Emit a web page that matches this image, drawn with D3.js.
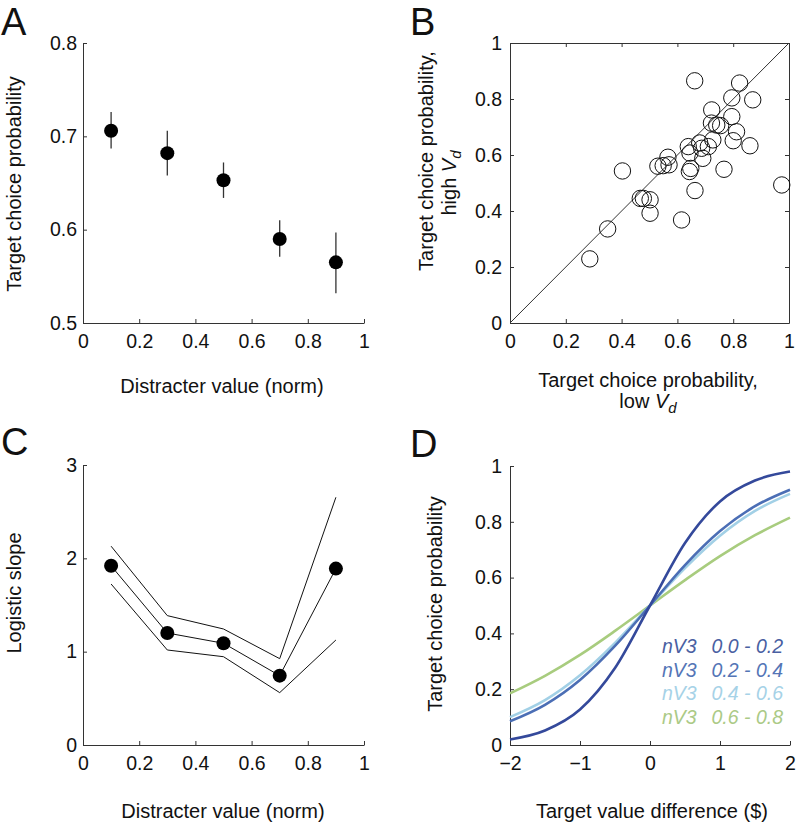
<!DOCTYPE html>
<html>
<head>
<meta charset="utf-8">
<script src="https://cdn.jsdelivr.net/npm/d3@7"></script>
<style>
  body { margin: 0; background: #fff; }
  svg { font-family: "Liberation Sans", Arial, Helvetica, sans-serif; }
  .axis path, .axis line { stroke: #333; stroke-width: 1; }
  .axis text { font-size: 19.5px; fill: #111; font-family: "Liberation Sans", Arial, sans-serif; }
</style>
</head>
<body>
<div id="chart"></div>
<script>
// panel A: target choice probability vs distracter value
const distracterX = [0.1, 0.3, 0.5, 0.7, 0.9];
const choiceMean = [0.706, 0.682, 0.653, 0.590, 0.565];
const choiceLow = [0.687, 0.658, 0.634, 0.571, 0.532];
const choiceHigh = [0.726, 0.706, 0.672, 0.610, 0.597];

// panel B: per-session choice probability, low Vd vs high Vd
const lowVd = [0.286, 0.350, 0.403, 0.467, 0.478, 0.502, 0.502, 0.530, 0.549, 0.566, 0.570,
  0.615, 0.639, 0.645, 0.648, 0.643, 0.663, 0.662, 0.680, 0.687, 0.691, 0.711, 0.727,
  0.723, 0.741, 0.722, 0.755, 0.767, 0.795, 0.795, 0.800, 0.812, 0.823, 0.860, 0.870, 0.974];
const highVd = [0.229, 0.336, 0.543, 0.445, 0.445, 0.440, 0.392, 0.560, 0.562, 0.592, 0.565,
  0.368, 0.630, 0.607, 0.552, 0.541, 0.473, 0.865, 0.643, 0.624, 0.588, 0.630, 0.654,
  0.761, 0.707, 0.714, 0.705, 0.549, 0.804, 0.737, 0.651, 0.683, 0.857, 0.633, 0.797, 0.493];

// panel C: logistic slope with bounds
const slope = [1.92, 1.20, 1.09, 0.743, 1.89];
const slopeUpper = [2.13, 1.386, 1.243, 0.925, 2.654];
const slopeLower = [1.725, 1.018, 0.946, 0.561, 1.125];

// panel D: choice curves per nV3 bin
const valueDiff = [-2, -1.5, -1, -0.5, 0, 0.5, 1, 1.5, 2];
const bin1 = [0.020, 0.052, 0.127, 0.276, 0.5, 0.724, 0.873, 0.948, 0.980];
const bin2 = [0.085, 0.144, 0.233, 0.355, 0.5, 0.645, 0.767, 0.856, 0.915];
const bin3 = [0.100, 0.161, 0.250, 0.366, 0.5, 0.634, 0.750, 0.839, 0.900];
const bin4 = [0.185, 0.248, 0.323, 0.409, 0.5, 0.591, 0.677, 0.752, 0.815];
const binLabels = ["0.0 - 0.2", "0.2 - 0.4", "0.4 - 0.6", "0.6 - 0.8"];
const binColors = ["#34499b", "#4b6eb5", "#a2d0e6", "#a8cc7e"];
const legendColors = ["#4a5fa2", "#5475b6", "#a6d2e7", "#abca86"];

const width = 796, height = 825;
const svg = d3.select("#chart").append("svg")
  .attr("width", width).attr("height", height);

function fmt(d) { return d3.format("")(+d.toFixed(1)); }

function panelLetter(t, x, y) {
  svg.append("text").attr("x", x).attr("y", y)
    .attr("font-size", 38).attr("fill", "#111").text(t);
}

function title(x, y, txt, rotate) {
  const t = svg.append("text").attr("font-size", 20).attr("fill", "#111")
    .attr("text-anchor", "middle");
  if (rotate) t.attr("transform", `translate(${x},${y}) rotate(-90)`);
  else t.attr("x", x).attr("y", y);
  t.text(txt);
  return t;
}

// ---------- A ----------
{
  const x = d3.scaleLinear().domain([0, 1]).range([83, 364]);
  const y = d3.scaleLinear().domain([0.5, 0.8]).range([323, 43]);
  svg.append("g").attr("class", "axis").attr("transform", "translate(0,323)")
    .call(d3.axisBottom(x).tickValues([0, 0.2, 0.4, 0.6, 0.8, 1]).tickSizeInner(-4)
      .tickSizeOuter(0).tickPadding(11).tickFormat(fmt));
  svg.append("g").attr("class", "axis").attr("transform", "translate(83,0)")
    .call(d3.axisLeft(y).tickValues([0.5, 0.6, 0.7, 0.8]).tickSizeInner(-4)
      .tickSizeOuter(0).tickPadding(6).tickFormat(fmt));

  svg.append("g").selectAll("line").data(distracterX).join("line")
    .attr("x1", d => x(d)).attr("x2", d => x(d))
    .attr("y1", (d, i) => y(choiceLow[i])).attr("y2", (d, i) => y(choiceHigh[i]))
    .attr("stroke", "#333").attr("stroke-width", 1.3);
  svg.append("g").selectAll("circle").data(distracterX).join("circle")
    .attr("cx", d => x(d)).attr("cy", (d, i) => y(choiceMean[i]))
    .attr("r", 7).attr("fill", "#000");

  panelLetter("A", 1, 35);
  title(21, 184, "Target choice probability", true);
  title(222, 393, "Distracter value (norm)");
}

// ---------- B ----------
{
  const x = d3.scaleLinear().domain([0, 1]).range([510, 789]);
  const y = d3.scaleLinear().domain([0, 1]).range([323, 43]);
  const ticks = [0, 0.2, 0.4, 0.6, 0.8, 1];
  svg.append("g").attr("class", "axis").attr("transform", "translate(0,323)")
    .call(d3.axisBottom(x).tickValues(ticks).tickSizeInner(-4)
      .tickSizeOuter(0).tickPadding(11).tickFormat(fmt));
  svg.append("g").attr("class", "axis").attr("transform", "translate(510,0)")
    .call(d3.axisLeft(y).tickValues(ticks).tickSizeInner(-4)
      .tickSizeOuter(0).tickPadding(8).tickFormat(fmt));
  svg.append("g").attr("class", "axis").attr("transform", "translate(0,43)")
    .call(d3.axisTop(x).tickValues(ticks).tickSizeInner(-4).tickSizeOuter(0).tickFormat(""));
  svg.append("g").attr("class", "axis").attr("transform", "translate(789,0)")
    .call(d3.axisRight(y).tickValues(ticks).tickSizeInner(-4).tickSizeOuter(0).tickFormat(""));

  svg.append("line")
    .attr("x1", x(0)).attr("y1", y(0)).attr("x2", x(1)).attr("y2", y(1))
    .attr("stroke", "#333").attr("stroke-width", 1);

  svg.append("g").selectAll("circle").data(lowVd).join("circle")
    .attr("cx", d => x(d)).attr("cy", (d, i) => y(highVd[i]))
    .attr("r", 8.2).attr("fill", "none").attr("stroke", "#111").attr("stroke-width", 1);

  panelLetter("B", 410, 35);
  title(433, 161, "Target choice probability,", true);
  const t = title(456, 183, "high ", true);
  t.append("tspan").attr("font-style", "italic").text("V");
  t.append("tspan").attr("font-style", "italic").attr("font-size", 15).attr("dy", 5).text("d");
  title(648, 387, "Target choice probability,");
  const t2 = title(648, 408, "low ");
  t2.append("tspan").attr("font-style", "italic").text("V");
  t2.append("tspan").attr("font-style", "italic").attr("font-size", 15).attr("dy", 5).text("d");
}

// ---------- C ----------
{
  const x = d3.scaleLinear().domain([0, 1]).range([83, 364]);
  const y = d3.scaleLinear().domain([0, 3]).range([745, 465]);
  svg.append("g").attr("class", "axis").attr("transform", "translate(0,745)")
    .call(d3.axisBottom(x).tickValues([0, 0.2, 0.4, 0.6, 0.8, 1]).tickSizeInner(-4)
      .tickSizeOuter(0).tickPadding(11).tickFormat(fmt));
  svg.append("g").attr("class", "axis").attr("transform", "translate(83,0)")
    .call(d3.axisLeft(y).tickValues([0, 1, 2, 3]).tickSizeInner(-4)
      .tickSizeOuter(0).tickPadding(6).tickFormat(fmt));

  const line = d3.line().x((d, i) => x(distracterX[i])).y(d => y(d));
  [slopeUpper, slope, slopeLower].forEach(s => {
    svg.append("path").attr("d", line(s))
      .attr("fill", "none").attr("stroke", "#111").attr("stroke-width", 1);
  });
  svg.append("g").selectAll("circle").data(slope).join("circle")
    .attr("cx", (d, i) => x(distracterX[i])).attr("cy", d => y(d))
    .attr("r", 7).attr("fill", "#000");

  panelLetter("C", 1, 455);
  title(21, 593, "Logistic slope", true);
  title(223, 818, "Distracter value (norm)");
}

// ---------- D ----------
{
  const x = d3.scaleLinear().domain([-2, 2]).range([510, 790]);
  const y = d3.scaleLinear().domain([0, 1]).range([745, 466]);
  svg.append("g").attr("class", "axis").attr("transform", "translate(0,745)")
    .call(d3.axisBottom(x).tickValues([-2, -1, 0, 1, 2]).tickSizeInner(-4)
      .tickSizeOuter(0).tickPadding(11).tickFormat(d3.format("d")));
  svg.append("g").attr("class", "axis").attr("transform", "translate(510,0)")
    .call(d3.axisLeft(y).tickValues([0, 0.2, 0.4, 0.6, 0.8, 1]).tickSizeInner(-4)
      .tickSizeOuter(0).tickPadding(8).tickFormat(fmt));

  const line = d3.line().x((d, i) => x(valueDiff[i])).y(d => y(d))
    .curve(d3.curveMonotoneX);
  const bins = [bin1, bin2, bin3, bin4];
  [3, 2, 1, 0].forEach(k => {
    svg.append("path").attr("d", line(bins[k]))
      .attr("fill", "none").attr("stroke", binColors[k]).attr("stroke-width", 2.6);
  });

  const leg = svg.append("g").attr("font-size", 19.5).attr("font-style", "italic");
  binLabels.forEach((lab, i) => {
    leg.append("text").attr("x", 662).attr("y", 653 + i * 23.7)
      .attr("fill", legendColors[i]).text("nV3");
    leg.append("text").attr("x", 783).attr("y", 653 + i * 23.7)
      .attr("text-anchor", "end").attr("fill", legendColors[i]).text(lab);
  });

  panelLetter("D", 410, 457);
  title(442, 604, "Target choice probability", true);
  title(652, 818, "Target value difference ($)");
}
</script>
</body>
</html>
